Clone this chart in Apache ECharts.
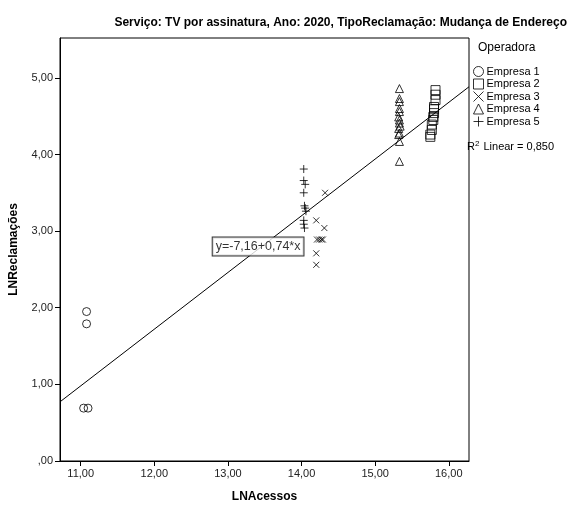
<!DOCTYPE html>
<html>
<head>
<meta charset="utf-8">
<title>LNReclamações x LNAcessos</title>
<script src="https://cdn.jsdelivr.net/npm/echarts@6/dist/echarts.min.js"></script>
<style>
  html, body { margin: 0; padding: 0; background: #fff; }
  #chart { width: 573px; height: 508px; }
</style>
</head>
<body>
<div id="chart"></div>
<script>
// Empresa 1..5: ln(acessos) vs ln(reclamações)
const empresa1X = [11.08, 11.08, 11.04, 11.10];
const empresa1Y = [1.95, 1.79, 0.69, 0.69];

const empresa2X = [15.82, 15.82, 15.82, 15.80, 15.80, 15.80, 15.79, 15.79, 15.77, 15.77, 15.75, 15.75];
const empresa2Y = [4.84, 4.78, 4.71, 4.62, 4.59, 4.54, 4.49, 4.45, 4.39, 4.32, 4.26, 4.23];

const empresa3X = [14.32, 14.20, 14.31, 14.21, 14.24, 14.27, 14.29, 14.20, 14.20];
const empresa3Y = [3.50, 3.14, 3.04, 2.89, 2.89, 2.89, 2.89, 2.71, 2.56];

const empresa4X = [15.33, 15.33, 15.33, 15.33, 15.33, 15.32, 15.33, 15.33, 15.34, 15.32, 15.33, 15.32, 15.33, 15.33];
const empresa4Y = [4.86, 4.73, 4.69, 4.60, 4.56, 4.49, 4.45, 4.41, 4.37, 4.34, 4.28, 4.26, 4.17, 3.91];

const empresa5X = [14.03, 14.03, 14.05, 14.03, 14.04, 14.05, 14.06, 14.03, 14.03, 14.04];
const empresa5Y = [3.81, 3.66, 3.61, 3.50, 3.33, 3.30, 3.26, 3.14, 3.09, 3.04];

// Linear fit y = a + b*x
const intercept = -7.16;
const slope = 0.74;
const rSquared = 0.850;

const xTicks = [11, 12, 13, 14, 15, 16];
const yTicks = [0, 1, 2, 3, 4, 5];
const xRange = [10.719, 16.275];
const yRange = [0, 5.52];

const fmt = v => {
  const s = v.toFixed(2).replace('.', ',');
  return s.startsWith('0,') ? s.slice(1) : s;
};
const pairs = (xs, ys) => xs.map((x, i) => [x, ys[i]]);

const FONT = '"Liberation Sans", Arial, sans-serif';
const CROSS = 'path://M0,0L10,10M10,0L0,10';
const PLUS = 'path://M5,0L5,10M0,5L10,5';
const hollow = { color: 'rgba(255,255,255,0)', borderColor: '#000', borderWidth: 1 };
const stroke = { color: 'rgba(0,0,0,0)', borderColor: '#000', borderWidth: 1 };

const fitLine = xRange.map(x => [x, intercept + slope * x]);
const eqAnchor = [[13.41, 2.80]];

const chart = echarts.init(document.getElementById('chart'), null, { renderer: 'canvas' });
chart.setOption({
  animation: false,
  backgroundColor: '#fff',
  textStyle: { fontFamily: FONT, color: '#000' },
  title: {
    text: 'Serviço: TV por assinatura, Ano: 2020, TipoReclamação: Mudança de Endereço',
    right: 6, top: 17, padding: 0,
    textStyle: { fontFamily: FONT, fontSize: 12, fontWeight: 'bold', color: '#000' }
  },
  legend: {
    orient: 'vertical',
    left: 473, top: 66,
    padding: 0,
    itemWidth: 10, itemHeight: 10, itemGap: 1.5,
    itemStyle: { borderWidth: 1 },
    textStyle: { fontFamily: FONT, fontSize: 11, color: '#000', padding: [0, 0, 0, -2] },
    data: [
      { name: 'Empresa 1', icon: 'circle' },
      { name: 'Empresa 2', icon: 'rect' },
      { name: 'Empresa 3', icon: CROSS },
      { name: 'Empresa 4', icon: 'triangle' },
      { name: 'Empresa 5', icon: PLUS }
    ]
  },
  graphic: [
    { type: 'text', left: 478, top: 42,
      style: { text: 'Operadora', font: '12px ' + FONT, fill: '#000' } },
    { type: 'text', left: 467, top: 140,
      style: {
        text: 'R{sup|2} Linear = ' + rSquared.toFixed(3).replace('.', ','),
        font: '11px ' + FONT, fill: '#000',
        rich: { sup: { fontSize: 8, verticalAlign: 'top', padding: [0, 1, 5, 0], fontFamily: FONT } }
      } }
  ],
  grid: {
    left: 49, right: 104, top: 38, bottom: 43,
    show: true, borderColor: '#000', borderWidth: 1
  },
  xAxis: {
    type: 'value', min: xRange[0], max: xRange[1],
    name: 'LNAcessos', nameLocation: 'middle', nameGap: 30,
    nameTextStyle: { fontFamily: FONT, fontSize: 12, fontWeight: 'bold', color: '#000' },
    axisLine: { show: true, lineStyle: { color: '#000', width: 1 } },
    axisTick: { show: true, length: 5, customValues: xTicks, lineStyle: { color: '#000' } },
    axisLabel: { customValues: xTicks, formatter: fmt, fontSize: 11, color: '#222', margin: 7 },
    splitLine: { show: false }
  },
  yAxis: {
    type: 'value', min: yRange[0], max: yRange[1],
    name: 'LNReclamações', nameLocation: 'middle', nameGap: 40, nameRotate: 90,
    nameTextStyle: { fontFamily: FONT, fontSize: 12, fontWeight: 'bold', color: '#000' },
    axisLine: { show: true, lineStyle: { color: '#000', width: 1 } },
    axisTick: { show: true, length: 5, customValues: yTicks, lineStyle: { color: '#000' } },
    axisLabel: { customValues: yTicks, formatter: fmt, fontSize: 11, color: '#222', margin: 7 },
    splitLine: { show: false }
  },
  series: [
    { name: 'Ajuste linear', type: 'line', data: fitLine, symbol: 'none', silent: true,
      lineStyle: { color: '#000', width: 1 }, z: 1 },
    { name: 'Empresa 1', type: 'scatter', data: pairs(empresa1X, empresa1Y),
      symbol: 'circle', symbolSize: 8, itemStyle: hollow, z: 3 },
    { name: 'Empresa 2', type: 'scatter', data: pairs(empresa2X, empresa2Y),
      symbol: 'rect', symbolSize: 9, itemStyle: hollow, z: 3 },
    { name: 'Empresa 3', type: 'scatter', data: pairs(empresa3X, empresa3Y),
      symbol: CROSS, symbolSize: 6, itemStyle: stroke, z: 3 },
    { name: 'Empresa 4', type: 'scatter', data: pairs(empresa4X, empresa4Y),
      symbol: 'triangle', symbolSize: 8, itemStyle: hollow, z: 3 },
    { name: 'Empresa 5', type: 'scatter', data: pairs(empresa5X, empresa5Y),
      symbol: PLUS, symbolSize: 8, itemStyle: stroke, z: 3 },
    { name: 'Equação', type: 'scatter', data: eqAnchor, symbolSize: 0, silent: true, z: 5,
      label: {
        show: true, position: 'inside',
        formatter: () => 'y=' + intercept.toFixed(2).replace('.', ',') + '+' +
          slope.toFixed(2).replace('.', ',') + '*x',
        fontFamily: FONT, fontSize: 12.5, color: '#000',
        backgroundColor: '#fff', borderColor: '#000', borderWidth: 1, padding: [3, 3, 2, 3]
      } }
  ]
});
</script>
</body>
</html>
